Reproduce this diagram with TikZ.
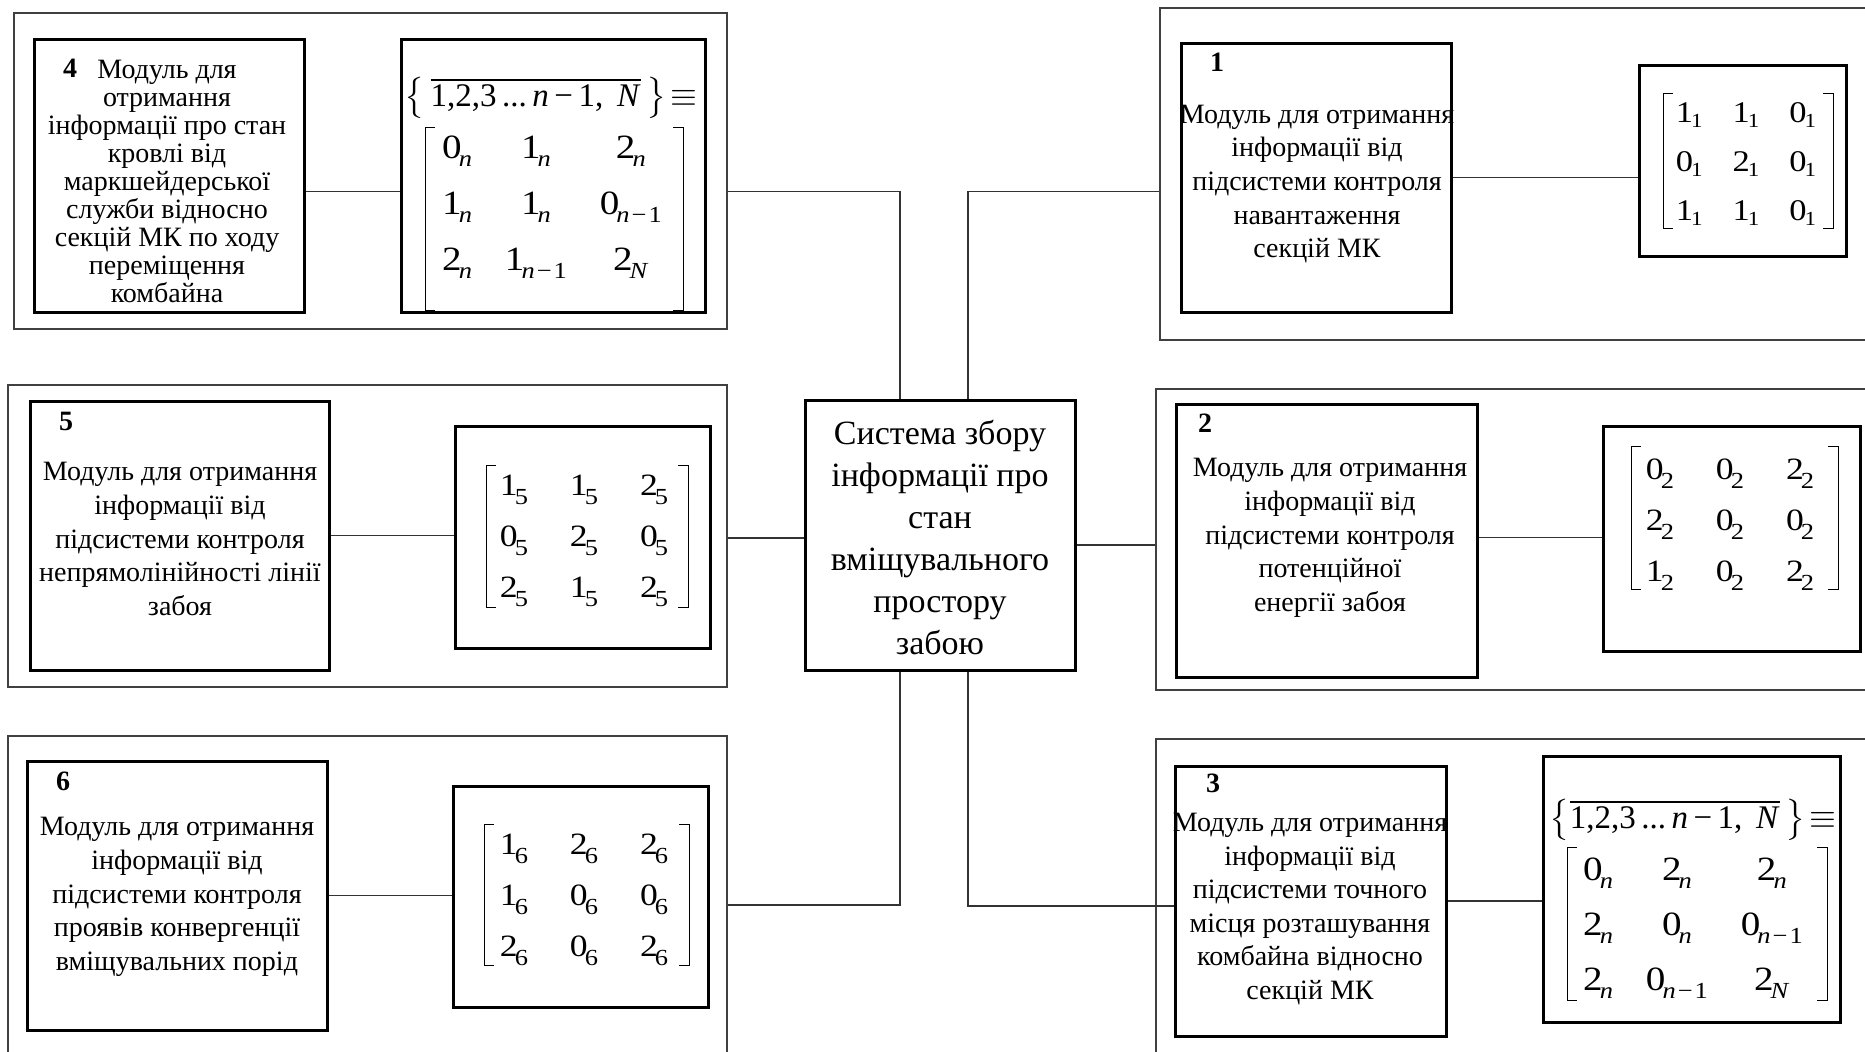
\documentclass[tikz,border=0pt]{standalone}
\usepackage{amsmath}
\usepackage{fontspec}
\setmainfont{Liberation Serif}
\newfontfamily\mtxfont[FakeStretch=1.15]{Liberation Serif}
\usetikzlibrary{fit}

% subscripted matrix entry: digit, then a lowered smaller index
\newcommand\subsz{11}
\newcommand\sublow{4pt}
\newcommand\subkern{-1pt}
\newcommand\setsub[3]{\def\subsz{#1}\def\sublow{#2}\def\subkern{#3}}
\newcommand\ent[2]{#1\kern\subkern\raisebox{-\sublow}{\fontsize{\subsz}{\subsz}\selectfont #2}}
\newcommand\mn{\textit{n}}
\newcommand\mN{\textit{N}}
\newcommand\nmo{\textit{n}\kern1pt−\kern1pt1}

\tikzset{
  frame/.style={draw=black!75, line width=0.6pt, inner sep=0pt},
  heavy/.style={draw=black, line width=1.5pt, inner sep=0pt},
  link/.style={draw=black!80, line width=0.6pt},
  brk/.style={draw=black, line width=0.5pt},
  txt/.style={align=center, inner sep=0pt, font=\fontsize{14}{16.8}\selectfont},
  txtA/.style={align=center, inner sep=0pt, font=\fontsize{14}{14}\selectfont},
  num/.style={inner sep=0pt, font=\fontsize{14}{14}\selectfont\bfseries},
  mtx/.style={inner sep=0pt},
}

\begin{document}
\begin{tikzpicture}[x=0.5pt,y=-0.5pt]
\useasboundingbox (0,0) rectangle (1865,1051);

% outer frames of the six groups
\node[frame, fit={(14,13) (727,329)}] (fr4) {};
\node[frame, fit={(1160,8) (1885,340)}] (fr1) {};
\node[frame, fit={(8,385) (727,687)}] (fr5) {};
\node[frame, fit={(1156,389) (1885,690)}] (fr2) {};
\node[frame, fit={(8,736) (727,1070)}] (fr6) {};
\node[frame, fit={(1156,739) (1885,1070)}] (fr3) {};

% central block
\node[heavy, fit={(805,400) (1075,670)}] (cen) {};
\node[align=center, inner sep=0pt, font=\fontsize{17}{21}\selectfont] (tc) at (940,537)
  {Система збору\\інформації про\\стан\\вміщувального\\простору\\забою};

% module boxes
\node[heavy, fit={(34,39) (304,312)}] (tb4) {};
\node[heavy, fit={(1181,43) (1451,312)}] (tb1) {};
\node[heavy, fit={(30,401) (329,670)}] (tb5) {};
\node[heavy, fit={(1176,404) (1477,677)}] (tb2) {};
\node[heavy, fit={(27,761) (327,1030)}] (tb6) {};
\node[heavy, fit={(1175,766) (1446,1036)}] (tb3) {};

% matrix boxes
\node[heavy, fit={(401,39) (705,312)}] (mb4) {};
\node[heavy, fit={(1639,65) (1846,256)}] (mb1) {};
\node[heavy, fit={(455,426) (710,648)}] (mb5) {};
\node[heavy, fit={(1603,426) (1860,651)}] (mb2) {};
\node[heavy, fit={(453,786) (708,1007)}] (mb6) {};
\node[heavy, fit={(1543,756) (1840,1022)}] (mb3) {};

% numbers
\node[num] (n4) at (70,68) {4};
\node[num] (n1) at (1217,62) {1};
\node[num] (n5) at (66,421) {5};
\node[num] (n2) at (1205,423) {2};
\node[num] (n6) at (63,781) {6};
\node[num] (n3) at (1213,783) {3};

% module texts
\node[txtA] (t4) at (167,181) {Модуль для\\отримання\\інформації про стан\\кровлі від\\маркшейдерської\\служби відносно\\секцій МК по ходу\\переміщення\\комбайна};
\node[txt] (t1) at (1317,184) {Модуль для отримання\\інформації від\\підсистеми контроля\\навантаження\\секцій МК};
\node[txt] (t5) at (180,539) {Модуль для отримання\\інформації від\\підсистеми контроля\\непрямолінійності лінії\\забоя};
\node[txt] (t2) at (1330,538) {Модуль для отримання\\інформації від\\підсистеми контроля\\потенційної\\енергії забоя};
\node[txt] (t6) at (177,897) {Модуль для отримання\\інформації від\\підсистеми контроля\\проявів конвергенції\\вміщувальних порід};
\node[txt] (t3) at (1310,909) {Модуль для отримання\\інформації від\\підсистеми точного\\місця розташування\\комбайна відносно\\секцій МК};

% set headers
\node[mtx, font=\fontsize{16.5}{20}\selectfont] (h4) at (551,98)
  {$\left\{\,\overline{\text{1,2,3\,...\,\textit{n}\,−\,1,\, \textit{N}}}\,\right\}\!\equiv$};
\node[mtx, font=\fontsize{16.5}{20}\selectfont] (h3) at (1693,820)
  {$\left\{\overline{\text{1,2,3\,...\,\textit{n}\,−\,1,\, \textit{N}}}\,\right\}\!\equiv$};

% matrix entries
\node[mtx, font=\mtxfont\fontsize{17}{28}\selectfont] (m4) at (552,203) {\setsub{11.5}{4pt}{-1.5pt}%
  \begin{tabular}{@{}c@{\hspace{16.5pt}}c@{\hspace{16.5pt}}c@{}}
  \ent{0}{\mn} & \ent{1}{\mn} & \ent{2}{\mn}\\
  \ent{1}{\mn} & \ent{1}{\mn} & \ent{0}{\nmo}\\
  \ent{2}{\mn} & \ent{1}{\nmo} & \ent{2}{\mN}
  \end{tabular}};
\node[mtx, font=\mtxfont\fontsize{17}{27.5}\selectfont] (m3) at (1693,924) {\setsub{11.5}{4pt}{-1.5pt}%
  \begin{tabular}{@{}c@{\hspace{16.5pt}}c@{\hspace{16.5pt}}c@{}}
  \ent{0}{\mn} & \ent{2}{\mn} & \ent{2}{\mn}\\
  \ent{2}{\mn} & \ent{0}{\mn} & \ent{0}{\nmo}\\
  \ent{2}{\mn} & \ent{0}{\nmo} & \ent{2}{\mN}
  \end{tabular}};
\node[mtx, font=\mtxfont\fontsize{15}{24.5}\selectfont] (m1) at (1746,162) {\setsub{10}{2.5pt}{-1pt}%
  \begin{tabular}{@{}c@{\hspace{15pt}}c@{\hspace{15pt}}c@{}}
  \ent{1}{1} & \ent{1}{1} & \ent{0}{1}\\
  \ent{0}{1} & \ent{2}{1} & \ent{0}{1}\\
  \ent{1}{1} & \ent{1}{1} & \ent{0}{1}
  \end{tabular}};
\node[mtx, font=\mtxfont\fontsize{15.5}{25.5}\selectfont] (m5) at (584,536) {\setsub{11.5}{4.5pt}{-1.5pt}%
  \begin{tabular}{@{}c@{\hspace{21pt}}c@{\hspace{21pt}}c@{}}
  \ent{1}{5} & \ent{1}{5} & \ent{2}{5}\\
  \ent{0}{5} & \ent{2}{5} & \ent{0}{5}\\
  \ent{2}{5} & \ent{1}{5} & \ent{2}{5}
  \end{tabular}};
\node[mtx, font=\mtxfont\fontsize{15.5}{25.5}\selectfont] (m2) at (1730,520) {\setsub{11.5}{4.5pt}{-1.5pt}%
  \begin{tabular}{@{}c@{\hspace{21pt}}c@{\hspace{21pt}}c@{}}
  \ent{0}{2} & \ent{0}{2} & \ent{2}{2}\\
  \ent{2}{2} & \ent{0}{2} & \ent{0}{2}\\
  \ent{1}{2} & \ent{0}{2} & \ent{2}{2}
  \end{tabular}};
\node[mtx, font=\mtxfont\fontsize{15.5}{25.5}\selectfont] (m6) at (584,895) {\setsub{11.5}{4.5pt}{-1.5pt}%
  \begin{tabular}{@{}c@{\hspace{21pt}}c@{\hspace{21pt}}c@{}}
  \ent{1}{6} & \ent{2}{6} & \ent{2}{6}\\
  \ent{1}{6} & \ent{0}{6} & \ent{0}{6}\\
  \ent{2}{6} & \ent{0}{6} & \ent{2}{6}
  \end{tabular}};

% square brackets of the matrices
\foreach \xa/\ya/\xb/\yb in {425/127/683/310, 1567/847/1827/1000, 1663/93/1833/228,
                             1631/446/1838/589, 486/465/688/607, 484/824/689/965}{
  \draw[brk] (\xa+10,\ya) -- (\xa,\ya) -- (\xa,\yb) -- (\xa+10,\yb);
  \draw[brk] (\xb-10,\ya) -- (\xb,\ya) -- (\xb,\yb) -- (\xb-10,\yb);
}

% connectors
\coordinate (j4) at (900,191.5);
\coordinate (j1) at (968,191.5);
\coordinate (j6) at (900,905);
\coordinate (j3) at (968,906);

\draw[link] (fr4.east |- j4) -- (j4) -- (j4 |- cen.north);
\draw[link] (fr1.west |- j1) -- (j1) -- (j1 |- cen.north);
\draw[link] (fr6.east |- j6) -- (j6) -- (j6 |- cen.south);
\draw[link] (tb3.west |- j3) -- (j3) -- (j3 |- cen.south);
\draw[link] ([yshift=-1.5pt]cen.west) -- ([yshift=-1.5pt]cen.west -| fr5.east);
\draw[link] ([yshift=-5pt]cen.east) -- ([yshift=-5pt]cen.east -| fr2.west);

\draw[link] (tb4.east |- j4) -- (j4 -| mb4.west);
\draw[link] (tb1.east) -- (tb1.east -| mb1.west);
\draw[link] (tb5.east) -- (tb5.east -| mb5.west);
\draw[link] ([yshift=1.5pt]tb2.east) -- ([yshift=1.5pt]tb2.east -| mb2.west);
\draw[link] (tb6.east) -- (tb6.east -| mb6.west);
\draw[link] (tb3.east) -- (tb3.east -| mb3.west);
\end{tikzpicture}
\end{document}
